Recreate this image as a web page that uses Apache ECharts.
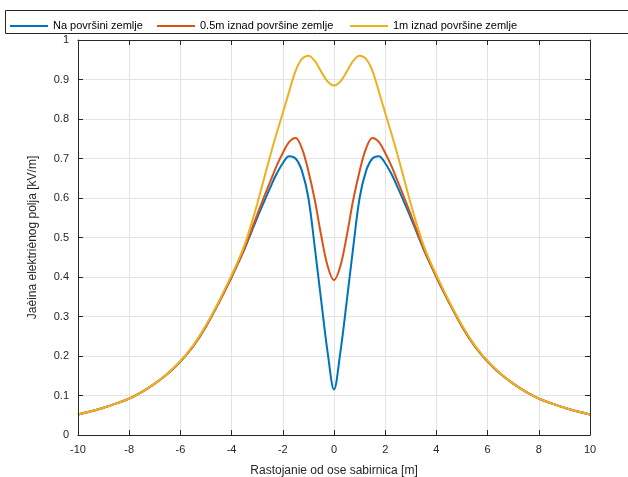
<!DOCTYPE html>
<html lang="en">
  <head>
    <meta charset="UTF-8" />
    <title>Jacina elektricnog polja</title>
    <style>
      html,
      body {
        margin: 0;
        padding: 0;
        background: #fff;
      }

      #main {
        width: 628px;
        height: 477px;
      }
    </style>
  </head>

  <body>
    <div id="main"></div>

    <script src="https://cdn.jsdelivr.net/npm/echarts@6/dist/echarts.min.js"></script>
    <script>
      // distance from the busbar axis [m]
      var xs = [
        -10, -9.5, -9, -8.5, -8, -7.5, -7, -6.5, -6, -5.5, -5, -4.5,
        -4, -3.75, -3.5, -3.25, -3, -2.75, -2.5, -2.25, -2, -1.75, -1.5, -1.25,
        -1, -0.75, -0.5, -0.25, 0, 0.25, 0.5, 0.75, 1, 1.25, 1.5, 1.75, 2,
        2.25, 2.5, 2.75, 3, 3.25, 3.5, 3.75, 4,
        4.5, 5, 5.5, 6, 6.5, 7, 7.5, 8, 8.5, 9, 9.5, 10
      ];
      // field at ground level [kV/m]
      var ground = [
        0.052, 0.06, 0.069, 0.08, 0.092, 0.109, 0.13, 0.155, 0.186, 0.225, 0.275, 0.335,
        0.4, 0.435, 0.47, 0.51, 0.55, 0.588, 0.625, 0.66, 0.688, 0.706, 0.7, 0.668,
        0.6, 0.475, 0.34, 0.21, 0.115, 0.21, 0.34, 0.475, 0.6, 0.668, 0.7, 0.706, 0.688,
        0.66, 0.625, 0.588, 0.55, 0.51, 0.47, 0.435, 0.4,
        0.335, 0.275, 0.225, 0.186, 0.155, 0.13, 0.109, 0.092, 0.08, 0.069, 0.06, 0.052
      ];
      // 0.5 m above ground [kV/m]
      var half = [
        0.052, 0.06, 0.069, 0.08, 0.092, 0.109, 0.13, 0.155, 0.186, 0.225, 0.275, 0.335,
        0.4, 0.435, 0.472, 0.515, 0.558, 0.6, 0.64, 0.68, 0.714, 0.742, 0.752, 0.725,
        0.668, 0.595, 0.505, 0.428, 0.392, 0.428, 0.505, 0.595, 0.668, 0.725, 0.752, 0.742, 0.714,
        0.68, 0.64, 0.6, 0.558, 0.515, 0.472, 0.435, 0.4,
        0.335, 0.275, 0.225, 0.186, 0.155, 0.13, 0.109, 0.092, 0.08, 0.069, 0.06, 0.052
      ];
      // 1 m above ground [kV/m]
      var oneMeter = [
        0.052, 0.06, 0.069, 0.08, 0.092, 0.109, 0.13, 0.156, 0.187, 0.227, 0.278, 0.338,
        0.405, 0.44, 0.48, 0.53, 0.585, 0.645, 0.705, 0.762, 0.815, 0.87, 0.922, 0.952,
        0.96, 0.947, 0.92, 0.895, 0.885, 0.895, 0.92, 0.947, 0.96, 0.952, 0.922, 0.87, 0.815,
        0.762, 0.705, 0.645, 0.585, 0.53, 0.48, 0.44, 0.405,
        0.338, 0.278, 0.227, 0.187, 0.156, 0.13, 0.109, 0.092, 0.08, 0.069, 0.06, 0.052
      ];
      var names = [
        "Na površini zemlje",
        "0.5m iznad površine zemlje",
        "1m iznad površine zemlje"
      ];
      var colors = ["#0072BD", "#D95319", "#EDB120"];

      var FONT = "Liberation Sans";
      var AXIS_COL = "#262626";

      function pairs(ys) {
        return xs.map((x, i) => [x, ys[i]]);
      }

      function legendAt(left, name) {
        return {
          data: [name],
          left: left,
          top: 20.5,
          padding: 0,
          icon: "rect",
          itemWidth: 38,
          itemHeight: 2,
          itemGap: 0,
          textStyle: { fontFamily: FONT, fontSize: 11, color: "#000" },
          selectedMode: false
        };
      }

      // box line with inward ticks, drawn on top of the grid lines
      function boxAxis(pos, min, max, interval, extra) {
        return Object.assign(
          {
            type: "value",
            position: pos,
            min: min,
            max: max,
            interval: interval,
            z: 5,
            axisLine: { show: true, onZero: false, lineStyle: { color: AXIS_COL, width: 1 } },
            axisTick: {
              show: true,
              inside: true,
              length: 5,
              interval: 0,
              lineStyle: { color: AXIS_COL, width: 1, opacity: 1 }
            },
            axisLabel: { show: false },
            splitLine: { show: false }
          },
          extra || {}
        );
      }

      // hidden axis that only draws the grid lines
      function gridAxis(pos, min, max, interval) {
        return {
          type: "value",
          position: pos,
          min: min,
          max: max,
          interval: interval,
          z: 0,
          axisLine: { show: false },
          axisTick: { show: false },
          axisLabel: { show: false },
          splitLine: { show: true, lineStyle: { color: "#e3e3e3" } }
        };
      }

      var chart = echarts.init(document.getElementById("main"));
      chart.setOption({
        animation: false,
        backgroundColor: "#fff",
        color: colors,
        graphic: [
          {
            type: "rect",
            shape: { x: 5.5, y: 10.5, width: 700, height: 23 },
            style: { fill: "none", stroke: AXIS_COL, lineWidth: 1 }
          }
        ],
        legend: [
          legendAt(10, names[0]),
          legendAt(157, names[1]),
          legendAt(350, names[2])
        ],
        grid: {
          left: 78,
          right: 38,
          top: 40,
          bottom: 42,
          outerBoundsMode: "none"
        },
        xAxis: [
          gridAxis("bottom", -10, 10, 2),
          boxAxis("bottom", -10, 10, 2, {
            name: "Rastojanie od ose sabirnica [m]",
            nameLocation: "middle",
            nameGap: 30,
            nameTextStyle: { fontFamily: FONT, fontSize: 12, color: AXIS_COL },
            axisLabel: { show: true, fontFamily: FONT, fontSize: 11, color: AXIS_COL, margin: 9 }
          }),
          boxAxis("top", -10, 10, 2)
        ],
        yAxis: [
          gridAxis("left", 0, 1, 0.1),
          boxAxis("left", 0, 1, 0.1, {
            name: "Jaèina elektriènog polja [kV/m]",
            nameLocation: "middle",
            nameGap: 39,
            nameTextStyle: { fontFamily: FONT, fontSize: 12, color: AXIS_COL },
            axisLabel: { show: true, fontFamily: FONT, fontSize: 11, color: AXIS_COL, margin: 9 }
          }),
          boxAxis("right", 0, 1, 0.1)
        ],
        series: [ground, half, oneMeter].map((ys, i) => ({
          name: names[i],
          type: "line",
          xAxisIndex: 1,
          yAxisIndex: 1,
          data: pairs(ys),
          symbol: "none",
          smooth: 0.35,
          lineStyle: { width: 2, color: colors[i] },
          z: 2 + i
        }))
      });
    </script>
  </body>
</html>
